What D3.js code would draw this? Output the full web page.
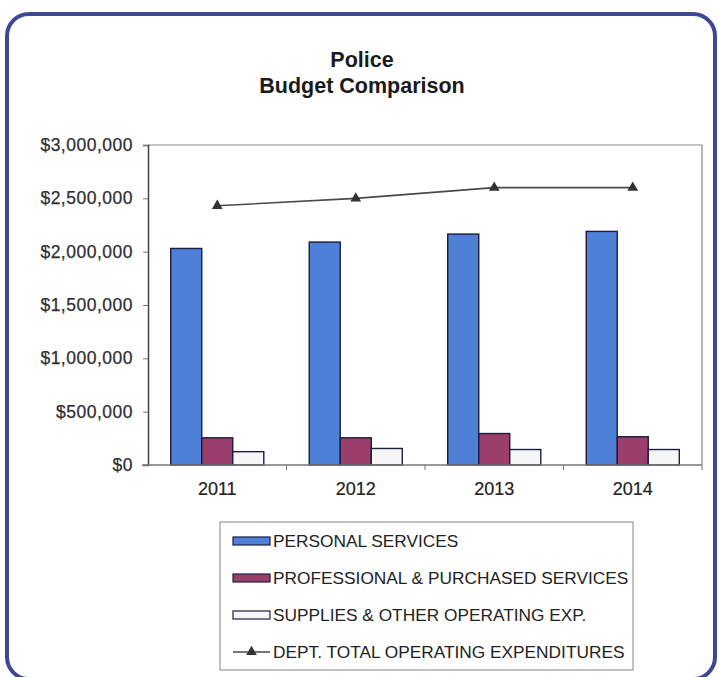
<!DOCTYPE html>
<html>
<head>
<meta charset="utf-8">
<script src="https://cdn.jsdelivr.net/npm/d3@7"></script>
<style>
  html, body { margin: 0; padding: 0; background: #fff; }
  svg { display: block; font-family: Arial, "Liberation Sans", Helvetica, sans-serif; }
</style>
</head>
<body>
<svg id="chart" width="719" height="677"></svg>
<script>
// Police budget by fiscal year
const years = ["2011", "2012", "2013", "2014"];
const personalServices = [2030000, 2090000, 2165000, 2190000];
const professionalServices = [255000, 255000, 295000, 265000];
const suppliesOperating = [125000, 155000, 145000, 145000];
const totalExpenditures = [2430000, 2500000, 2600000, 2600000];
const yTicks = [0, 500000, 1000000, 1500000, 2000000, 2500000, 3000000];

const seriesNames = [
  "PERSONAL SERVICES",
  "PROFESSIONAL & PURCHASED SERVICES",
  "SUPPLIES & OTHER OPERATING EXP."
];
const lineName = "DEPT. TOTAL OPERATING EXPENDITURES";
const barSeries = [personalServices, professionalServices, suppliesOperating];
const barColors = ["#4d80d6", "#9a3e6c", "#f6f6f8"];

const svg = d3.select("#chart");

// rounded outer frame
svg.append("rect")
  .attr("x", 7).attr("y", 14)
  .attr("width", 708).attr("height", 665)
  .attr("rx", 22).attr("ry", 22)
  .attr("fill", "#fff")
  .attr("stroke", "#3d4795").attr("stroke-width", 4);

// title
const title = svg.append("text")
  .attr("text-anchor", "middle")
  .attr("font-weight", "bold").attr("font-size", 21.5).attr("fill", "#1a1a1a");
title.append("tspan").attr("x", 362).attr("y", 67).text("Police");
title.append("tspan").attr("x", 362).attr("y", 93).text("Budget Comparison");

const plot = { left: 148, right: 702, top: 145, bottom: 465 };

const x0 = d3.scaleBand().domain(years).range([plot.left, plot.right]).padding(0);
const bw = x0.bandwidth();
const x1 = d3.scaleBand().domain(d3.range(barSeries.length))
  .range([bw * 0.164, bw * 0.836]).padding(0);
const y = d3.scaleLinear().domain([0, 3000000]).range([plot.bottom, plot.top]);

// plot frame (top and right edges)
svg.append("path")
  .attr("d", `M${plot.left},${plot.top}H${plot.right}V${plot.bottom}`)
  .attr("fill", "none").attr("stroke", "#8a8a8a").attr("stroke-width", 1.2);

// y axis
const yAxis = svg.append("g")
  .attr("transform", `translate(${plot.left},0)`)
  .call(d3.axisLeft(y).tickValues(yTicks).tickSize(5).tickPadding(10)
    .tickFormat(d => "$" + d3.format(",")(d)));
yAxis.select(".domain").attr("stroke", "#444").attr("stroke-width", 1.5);
yAxis.selectAll(".tick line").attr("stroke", "#777");
yAxis.selectAll("text")
  .attr("font-size", 17.5).attr("letter-spacing", 0.5)
  .attr("fill", "#2e2e2e").attr("stroke", "#2e2e2e").attr("stroke-width", 0.25)
  .attr("font-family", "Arial, 'Liberation Sans', sans-serif");

// bars
const groups = svg.append("g").selectAll("g")
  .data(years).join("g")
  .attr("transform", d => `translate(${x0(d)},0)`);
groups.selectAll("rect")
  .data((d, i) => barSeries.map((s, k) => ({ k, v: s[i] })))
  .join("rect")
  .attr("x", d => x1(d.k))
  .attr("width", x1.bandwidth())
  .attr("y", d => y(d.v))
  .attr("height", d => y(0) - y(d.v))
  .attr("fill", d => barColors[d.k])
  .attr("stroke", "#1b1f3a").attr("stroke-width", 1.4);

// x axis
const xAxis = svg.append("g")
  .attr("transform", `translate(0,${plot.bottom})`)
  .call(d3.axisBottom(x0).tickSize(0).tickPadding(17));
xAxis.select(".domain").remove();
xAxis.selectAll("text")
  .attr("font-size", 18).attr("fill", "#222")
  .attr("stroke", "#222").attr("stroke-width", 0.2)
  .attr("font-family", "Arial, 'Liberation Sans', sans-serif");
svg.append("line")
  .attr("x1", plot.left - 6).attr("x2", plot.right)
  .attr("y1", plot.bottom).attr("y2", plot.bottom)
  .attr("stroke", "#777").attr("stroke-width", 1.5);
// category boundary ticks
svg.append("g").selectAll("line")
  .data(years)
  .join("line")
  .attr("x1", d => x0(d) + bw)
  .attr("x2", d => x0(d) + bw)
  .attr("y1", plot.bottom).attr("y2", plot.bottom + 5)
  .attr("stroke", "#777");

// total expenditures line
const cx = d => x0(d) + bw / 2;
const pts = years.map((yr, i) => [cx(yr), y(totalExpenditures[i])]);
svg.append("path")
  .attr("d", d3.line()(pts))
  .attr("fill", "none").attr("stroke", "#4a4a4a").attr("stroke-width", 1.6);
const tri = d3.symbol().type(d3.symbolTriangle).size(50);
svg.append("g").selectAll("path")
  .data(pts).join("path")
  .attr("transform", d => `translate(${d[0]},${d[1]})`)
  .attr("d", tri)
  .attr("fill", "#333");

// legend
svg.append("rect")
  .attr("x", 220).attr("y", 522).attr("width", 413).attr("height", 148)
  .attr("fill", "#fff").attr("stroke", "#9a9a9a").attr("stroke-width", 1.2);
const rowY = [541, 578, 615, 652];
const leg = svg.append("g");
seriesNames.forEach((name, k) => {
  leg.append("rect")
    .attr("x", 233).attr("y", rowY[k] - 4).attr("width", 37).attr("height", 8)
    .attr("fill", barColors[k]).attr("stroke", "#1b1f3a").attr("stroke-width", 1.2);
  leg.append("text")
    .attr("x", 273).attr("y", rowY[k] + 6)
    .attr("font-size", 17.3).attr("fill", "#222").text(name);
});
leg.append("line")
  .attr("x1", 233).attr("x2", 270).attr("y1", rowY[3]).attr("y2", rowY[3])
  .attr("stroke", "#4a4a4a").attr("stroke-width", 1.6);
leg.append("path")
  .attr("transform", `translate(251.5,${rowY[3]})`)
  .attr("d", tri).attr("fill", "#333");
leg.append("text")
  .attr("x", 273).attr("y", rowY[3] + 6)
  .attr("font-size", 17.3).attr("fill", "#222").text(lineName);
</script>
</body>
</html>
